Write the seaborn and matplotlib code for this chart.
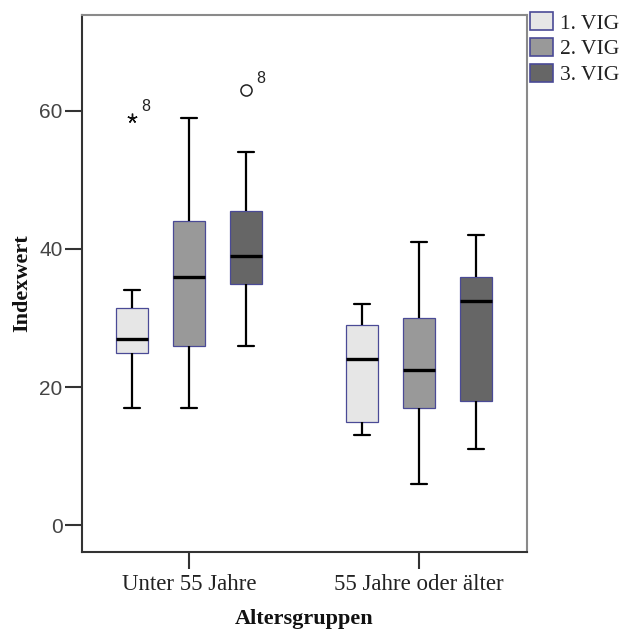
import numpy as np
import pandas as pd
import matplotlib
matplotlib.use("Agg")
import matplotlib.pyplot as plt
import seaborn as sns

# Age groups and vignette rounds
groups = ["Unter 55 Jahre", "55 Jahre oder älter"]
vigs = ["1. VIG", "2. VIG", "3. VIG"]

# Five-number summaries per (group, vignette), in the order
# group 1: VIG 1..3, group 2: VIG 1..3
whisker_low = [17, 17, 26, 13, 6, 11]
q1 = [25, 26, 35, 15, 17, 18]
median = [27, 36, 39, 24, 22.5, 32.5]
q3 = [31.5, 44, 45.5, 29, 30, 36]
whisker_high = [34, 59, 54, 32, 41, 42]
outlier = [59, None, 63, None, None, None]
outlier_case = ["8", None, "8", None, None, None]

fills = ["#E6E6E6", "#999999", "#666666"]
box_edge = "#4A4A96"

# Expand each summary into a small sample whose quartiles reproduce it
rows = []
k = 0
for g in groups:
    for v in vigs:
        extra = outlier[k] if outlier[k] is not None else whisker_high[k]
        vals = [whisker_low[k], q1[k], q1[k], median[k], median[k],
                q3[k], q3[k], whisker_high[k], extra]
        for val in vals:
            rows.append({"Altersgruppen": g, "VIG": v, "Indexwert": val})
        k += 1
df = pd.DataFrame(rows)

sns.set_theme(style="white")
fig = plt.figure(figsize=(6.35, 6.32), dpi=100)
ax = fig.add_axes([82 / 635, 1 - 552 / 632, (527 - 82) / 635, (552 - 15) / 632])

sns.boxplot(
    data=df, x="Altersgruppen", y="Indexwert", hue="VIG",
    order=groups, hue_order=vigs, palette=fills, saturation=1,
    width=0.745, gap=0.45, linecolor="black", linewidth=1.6,
    whis=1.5, medianprops={"linewidth": 2.4},
    flierprops={"marker": "o", "markersize": 8, "markerfacecolor": "none",
                "markeredgecolor": "#222222", "markeredgewidth": 1.1},
    ax=ax,
)

# Box outlines in navy, thin
for p in ax.patches:
    p.set_edgecolor(box_edge)
    p.set_linewidth(0.9)

# Fliers: extreme values (beyond 3 IQR) drawn as stars, plus case labels
for line in ax.lines:
    xs, ys = line.get_xdata(), line.get_ydata()
    if line.get_linestyle() in ("None", "none", "") and len(ys) > 0:
        for x, y in zip(xs, ys):
            idx = [i for i, o in enumerate(outlier) if o is not None and np.isclose(o, y)]
            if not idx:
                continue
            i = idx[0]
            iqr = q3[i] - q1[i]
            if y > q3[i] + 3 * iqr:
                line.set_marker((5, 2, 0))
                line.set_markersize(7)
                line.set_markeredgewidth(1.0)
                line.set_markeredgecolor("#111111")
            ax.annotate(outlier_case[i], (x, y), xytext=(7, 5),
                        textcoords="offset points", fontsize=11.5,
                        family="Liberation Sans", color="#222222")

ax.set_ylim(-3.9, 73.9)
ax.set_xlim(-0.465, 1.47)
ax.set_yticks([0, 20, 40, 60])

ax.set_ylabel("Indexwert", family="Liberation Serif", fontweight="bold",
              fontsize=16, color="#111111", labelpad=5)
ax.set_xlabel("Altersgruppen", family="Liberation Serif", fontweight="bold",
              fontsize=16, color="#111111", labelpad=10)

for lab in ax.get_yticklabels():
    lab.set_family("Liberation Sans")
    lab.set_fontsize(15)
    lab.set_color("#444444")
for lab in ax.get_xticklabels():
    lab.set_family("Liberation Serif")
    lab.set_fontsize(16.5)
    lab.set_color("#222222")

ax.tick_params(axis="y", which="major", length=12, width=1.5,
               color="#333333", pad=2, left=True)
ax.tick_params(axis="x", which="major", length=12, width=1.5,
               color="#333333", pad=4, bottom=True)

for side in ["left", "bottom"]:
    ax.spines[side].set_color("#333333")
    ax.spines[side].set_linewidth(1.5)
for side in ["top", "right"]:
    ax.spines[side].set_color("#8A8A8A")
    ax.spines[side].set_linewidth(1.5)

sns.move_legend(
    ax, "upper left", bbox_to_anchor=(530 / 635, 1 - 12 / 632),
    bbox_transform=fig.transFigure, frameon=False, title=None,
    prop={"family": "Liberation Serif", "size": 15.5},
    handlelength=1.05, handleheight=0.93, handletextpad=0.35,
    labelspacing=0.2, borderaxespad=0, borderpad=0,
)
leg = ax.get_legend()
for h in leg.legend_handles:
    h.set_edgecolor(box_edge)
    h.set_linewidth(1.2)
for t in leg.get_texts():
    t.set_color("#222222")

fig.savefig("out.png", dpi=100)
